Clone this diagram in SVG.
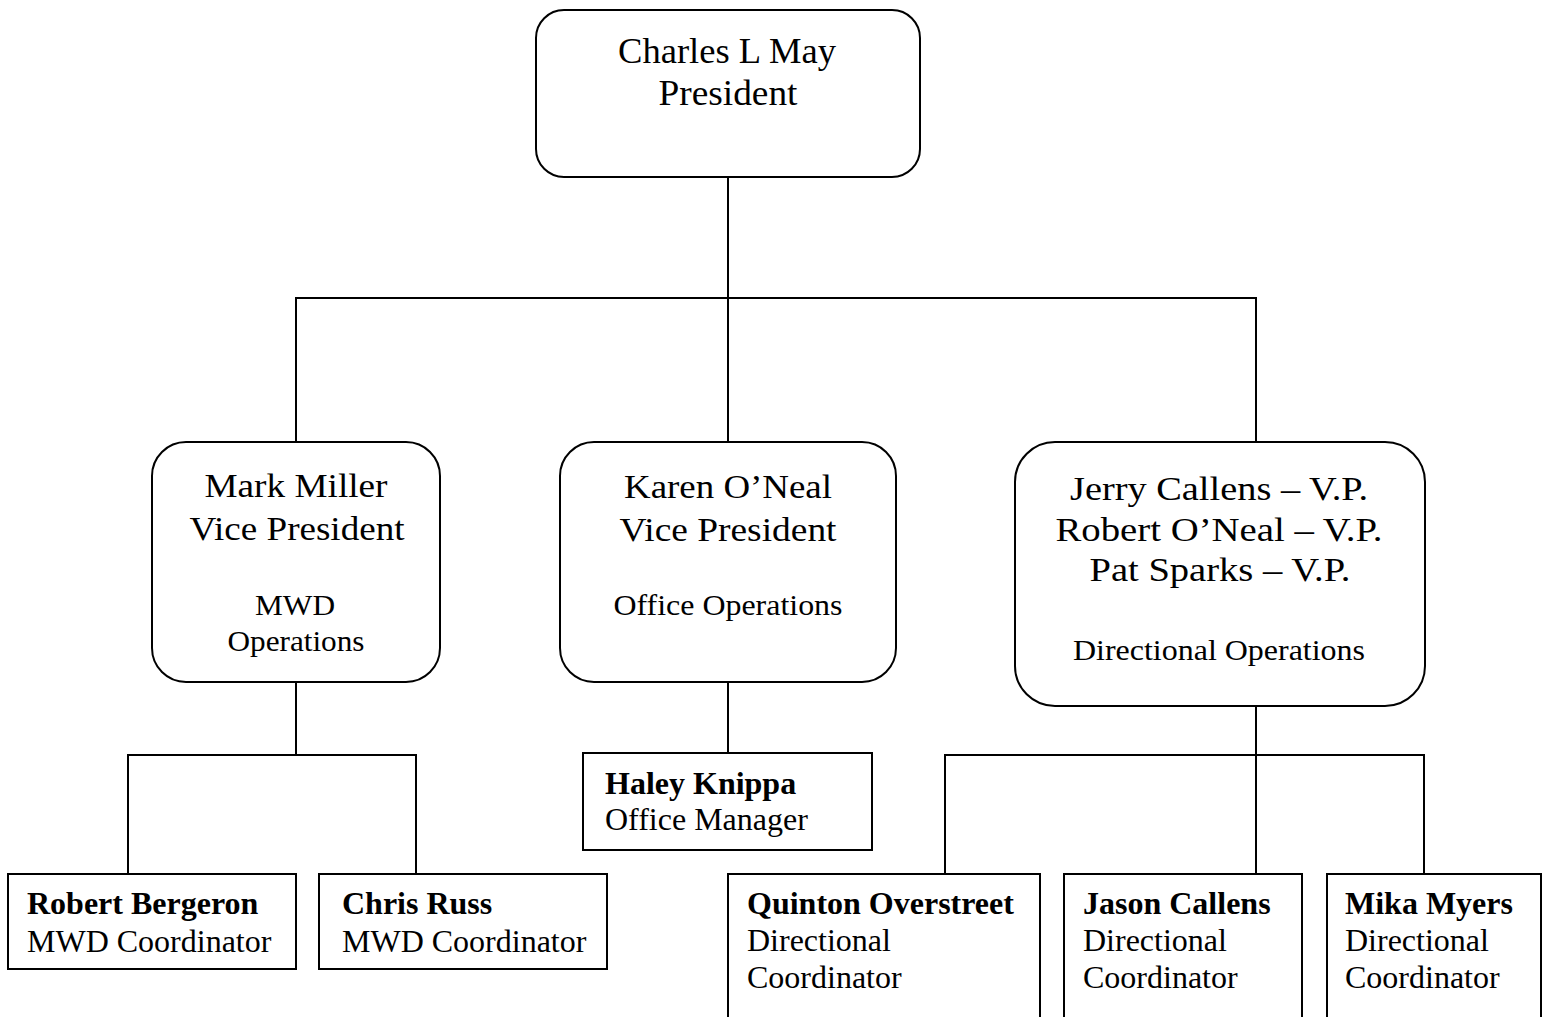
<svg xmlns="http://www.w3.org/2000/svg" width="1551" height="1017" viewBox="0 0 1551 1017">
<style>
  .bg { fill: #ffffff; }
  .rbox { fill: #ffffff; stroke: #000000; stroke-width: 2; }
  .box { fill: #ffffff; stroke: #000000; stroke-width: 2; }
  .conn { fill: none; stroke: #000000; stroke-width: 2; stroke-linecap: square; }
  text { font-family: "Liberation Serif", "Times New Roman", serif; fill: #000000; }
  .big { font-size: 34px; text-anchor: middle; }
  .top { font-size: 36px; text-anchor: middle; }
  .sub { font-size: 30px; text-anchor: middle; }
  .name { font-size: 32px; font-weight: bold; }
  .role { font-size: 32px; }
</style>
<rect class="bg" x="0" y="0" width="1551" height="1017"/>
<g id="connectors">
  <path class="conn" d="M728 177 V298 M296 298 H1256 M296 298 V442 M728 298 V442 M1256 298 V442"/>
  <path class="conn" d="M296 682 V755 M128 755 H416 M128 755 V874 M416 755 V874"/>
  <path class="conn" d="M728 682 V753"/>
  <path class="conn" d="M1256 706 V755 M945 755 H1424 M945 755 V874 M1256 755 V874 M1424 755 V874"/>
</g>
<g id="president">
  <rect class="rbox" x="536" y="10" width="384" height="167" rx="28" ry="28"/>
  <text class="top" x="727" y="63" textLength="218" lengthAdjust="spacingAndGlyphs">Charles L May</text>
  <text class="top" x="728" y="105" textLength="139" lengthAdjust="spacingAndGlyphs">President</text>
</g>
<g id="mark-miller">
  <rect class="rbox" x="152" y="442" width="288" height="240" rx="34" ry="34"/>
  <text class="big" x="296" y="497" textLength="183" lengthAdjust="spacingAndGlyphs">Mark Miller</text>
  <text class="big" x="297" y="540" textLength="215" lengthAdjust="spacingAndGlyphs">Vice President</text>
  <text class="sub" x="295" y="615" textLength="80" lengthAdjust="spacingAndGlyphs">MWD</text>
  <text class="sub" x="296" y="651" textLength="137" lengthAdjust="spacingAndGlyphs">Operations</text>
</g>
<g id="karen-oneal">
  <rect class="rbox" x="560" y="442" width="336" height="240" rx="34" ry="34"/>
  <text class="big" x="728" y="498" textLength="208" lengthAdjust="spacingAndGlyphs">Karen O’Neal</text>
  <text class="big" x="728" y="541" textLength="217" lengthAdjust="spacingAndGlyphs">Vice President</text>
  <text class="sub" x="728" y="615" textLength="229" lengthAdjust="spacingAndGlyphs">Office Operations</text>
</g>
<g id="directional-vps">
  <rect class="rbox" x="1015" y="442" width="410" height="264" rx="40" ry="40"/>
  <text class="big" x="1219" y="500" textLength="298" lengthAdjust="spacingAndGlyphs">Jerry Callens – V.P.</text>
  <text class="big" x="1219" y="541" textLength="327" lengthAdjust="spacingAndGlyphs">Robert O’Neal – V.P.</text>
  <text class="big" x="1220" y="581" textLength="261" lengthAdjust="spacingAndGlyphs">Pat Sparks – V.P.</text>
  <text class="sub" x="1219" y="660" textLength="292" lengthAdjust="spacingAndGlyphs">Directional Operations</text>
</g>
<g id="haley-knippa">
  <rect class="box" x="583" y="753" width="289" height="97"/>
  <text class="name" x="605" y="794">Haley Knippa</text>
  <text class="role" x="605" y="830">Office Manager</text>
</g>
<g id="robert-bergeron">
  <rect class="box" x="8" y="874" width="288" height="95"/>
  <text class="name" x="27" y="914">Robert Bergeron</text>
  <text class="role" x="27" y="952">MWD Coordinator</text>
</g>
<g id="chris-russ">
  <rect class="box" x="319" y="874" width="288" height="95"/>
  <text class="name" x="342" y="914">Chris Russ</text>
  <text class="role" x="342" y="952">MWD Coordinator</text>
</g>
<g id="quinton-overstreet">
  <rect class="box" x="728" y="874" width="312" height="170"/>
  <text class="name" x="747" y="914">Quinton Overstreet</text>
  <text class="role" x="747" y="951">Directional</text>
  <text class="role" x="747" y="988">Coordinator</text>
</g>
<g id="jason-callens">
  <rect class="box" x="1064" y="874" width="238" height="170"/>
  <text class="name" x="1083" y="914">Jason Callens</text>
  <text class="role" x="1083" y="951">Directional</text>
  <text class="role" x="1083" y="988">Coordinator</text>
</g>
<g id="mika-myers">
  <rect class="box" x="1327" y="874" width="214" height="170"/>
  <text class="name" x="1345" y="914">Mika Myers</text>
  <text class="role" x="1345" y="951">Directional</text>
  <text class="role" x="1345" y="988">Coordinator</text>
</g>
</svg>
